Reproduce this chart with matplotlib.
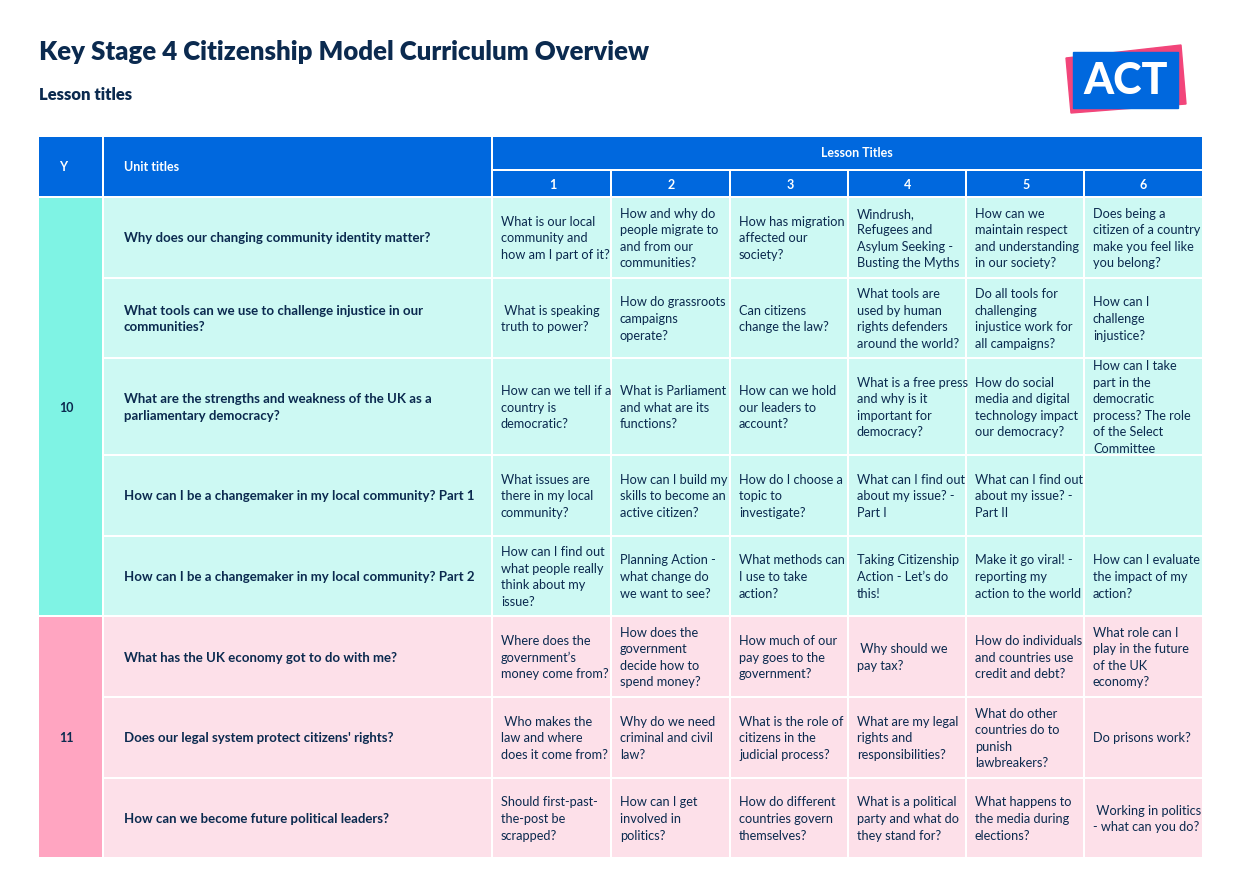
import matplotlib.pyplot as plt
from matplotlib.patches import Rectangle, Polygon

# data
years = ['10', '11']
year_rows = [5, 3]
units = [
    'Why does our changing community identity matter?',
    'What tools can we use to challenge injustice in our\ncommunities?',
    'What are the strengths and weakness of the UK as a\nparliamentary democracy?',
    'How can I be a changemaker in my local community? Part 1',
    'How can I be a changemaker in my local community? Part 2',
    'What has the UK economy got to do with me?',
    "Does our legal system protect citizens' rights?",
    'How can we become future political leaders?',
]
lessons = [
    ['What is our local\ncommunity and\nhow am I part of it?', 'How and why do\npeople migrate to\nand from our\ncommunities?',
     'How has migration\naffected our\nsociety?', 'Windrush,\nRefugees and\nAsylum Seeking -\nBusting the Myths',
     'How can we\nmaintain respect\nand understanding\nin our society?', 'Does being a\ncitizen of a country\nmake you feel like\nyou belong?'],
    [' What is speaking\ntruth to power?', 'How do grassroots\ncampaigns\noperate?', 'Can citizens\nchange the law?',
     'What tools are\nused by human\nrights defenders\naround the world?', 'Do all tools for\nchallenging\ninjustice work for\nall campaigns?',
     'How can I\nchallenge\ninjustice?'],
    ['How can we tell if a\ncountry is\ndemocratic?', 'What is Parliament\nand what are its\nfunctions?',
     'How can we hold\nour leaders to\naccount?', 'What is a free press\nand why is it\nimportant for\ndemocracy?',
     'How do social\nmedia and digital\ntechnology impact\nour democracy?',
     'How can I take\npart in the\ndemocratic\nprocess? The role\nof the Select\nCommittee'],
    ['What issues are\nthere in my local\ncommunity?', 'How can I build my\nskills to become an\nactive citizen?',
     'How do I choose a\ntopic to\ninvestigate?', 'What can I find out\nabout my issue? -\nPart I',
     'What can I find out\nabout my issue? -\nPart II', ''],
    ['How can I find out\nwhat people really\nthink about my\nissue?', 'Planning Action -\nwhat change do\nwe want to see?',
     'What methods can\nI use to take\naction?', 'Taking Citizenship\nAction - Let\u2019s do\nthis!',
     'Make it go viral! -\nreporting my\naction to the world', 'How can I evaluate\nthe impact of my\naction?'],
    ['Where does the\ngovernment\u2019s\nmoney come from?', 'How does the\ngovernment\ndecide how to\nspend money?',
     'How much of our\npay goes to the\ngovernment?', ' Why should we\npay tax?',
     'How do individuals\nand countries use\ncredit and debt?', 'What role can I\nplay in the future\nof the UK\neconomy?'],
    [' Who makes the\nlaw and where\ndoes it come from?', 'Why do we need\ncriminal and civil\nlaw?',
     'What is the role of\ncitizens in the\njudicial process?', 'What are my legal\nrights and\nresponsibilities?',
     'What do other\ncountries do to\npunish\nlawbreakers?', 'Do prisons work?'],
    ['Should first-past-\nthe-post be\nscrapped?', 'How can I get\ninvolved in\npolitics?',
     'How do different\ncountries govern\nthemselves?', 'What is a political\nparty and what do\nthey stand for?',
     'What happens to\nthe media during\nelections?', ' Working in politics\n- what can you do?'],
]
lesson_nums = ['1', '2', '3', '4', '5', '6']

blue = '#0068de'
navy = '#0b2a4f'
year_col = ['#7ff3e4', '#ffa5c1']
cell_col = ['#cdf9f3', '#fde0e9']
plt.rcParams['font.family'] = ['Lato', 'DejaVu Sans']

fig = plt.figure(figsize=(12.43, 8.73), dpi=100)
ax = fig.add_axes([0, 0, 1, 1])
ax.set_xlim(0, 1243)
ax.set_ylim(873, 0)
ax.axis('off')

ax.text(39, 52, 'Key Stage 4 Citizenship Model Curriculum Overview', fontsize=18.5, fontweight='heavy',
        color=navy, va='center')
ax.text(39, 95, 'Lesson titles', fontsize=12, fontweight='heavy', color=navy, va='center')

# logo
ax.add_patch(Polygon([[1066, 58], [1181, 45], [1186, 104], [1071, 113]], color='#f2457a'))
ax.add_patch(Rectangle((1073, 52), 105, 56, color=blue))
ax.text(1126, 81, 'ACT', fontsize=31, fontweight='black', color='white', ha='center', va='center')

col_x = [39, 104, 493, 612, 731, 849, 967, 1085, 1202]
row_y = [198, 279, 359, 456, 537, 617, 698, 779, 859]
g = 2

def cell(x0, x1, y0, y1, c):
    ax.add_patch(Rectangle((x0, y0), x1 - x0 - g, y1 - y0 - g, color=c, lw=0))

# header
cell(col_x[0], col_x[1], 137, 198, blue)
cell(col_x[1], col_x[2], 137, 198, blue)
cell(col_x[2], col_x[-1] + g, 137, 171, blue)
ax.text(63, 167, 'Y', fontsize=9, fontweight='bold', color='white', ha='center', va='center')
ax.text(124, 167, 'Unit titles', fontsize=9, fontweight='bold', color='white', va='center')
ax.text(857, 153, 'Lesson Titles', fontsize=9, fontweight='bold', color='white', ha='center', va='center')
for j, n in enumerate(lesson_nums):
    cell(col_x[2 + j], col_x[3 + j] + (g if j == 5 else 0), 171, 198, blue)
    ax.text((col_x[2 + j] + col_x[3 + j]) / 2, 185, n, fontsize=9, fontweight='bold', color='white',
            ha='center', va='center')

# body
r = 0
for k, (yr, nr) in enumerate(zip(years, year_rows)):
    y0, y1 = row_y[r], row_y[r + nr]
    cell(col_x[0], col_x[1], y0, y1, year_col[k])
    ax.text(66, (y0 + y1) / 2, yr, fontsize=9, fontweight='bold', color=navy, ha='center', va='center')
    for i in range(r, r + nr):
        a, b = row_y[i], row_y[i + 1]
        cy = (a + b - g) / 2 + 1
        cell(col_x[1], col_x[2], a, b, cell_col[k])
        ax.text(124, cy, units[i], fontsize=9.5, fontweight='bold', color=navy, va='center',
                linespacing=1.45)
        for j in range(6):
            cell(col_x[2 + j], col_x[3 + j] + (g if j == 5 else 0), a, b, cell_col[k])
            ax.text(col_x[2 + j] + 8, cy, lessons[i][j], fontsize=9.2, color=navy, va='center',
                    linespacing=1.45)
    r += nr

fig.savefig('out.png', dpi=100)
